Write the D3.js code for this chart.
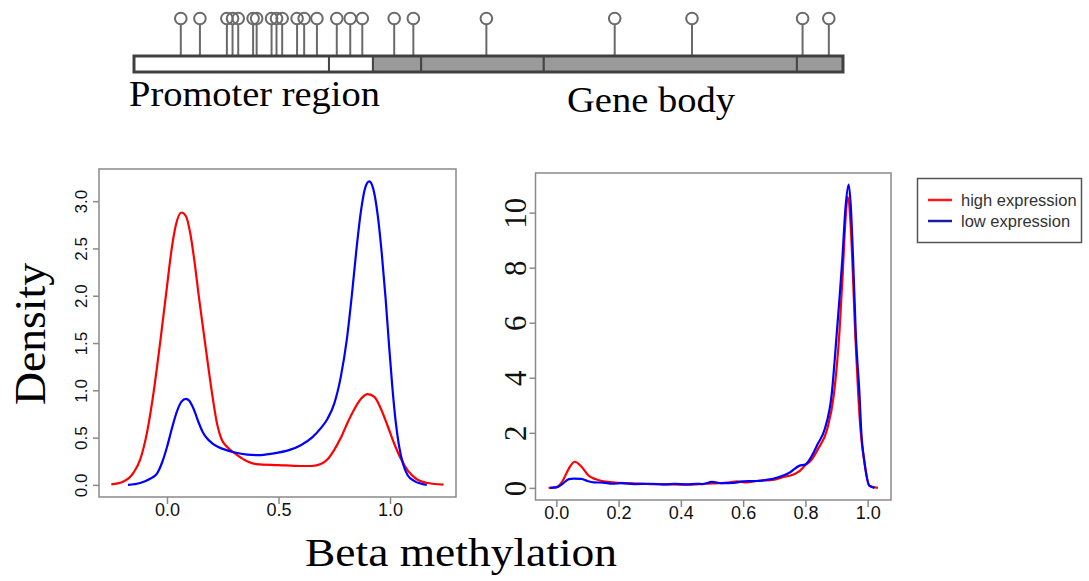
<!DOCTYPE html>
<html>
<head>
<meta charset="utf-8">
<script src="https://cdn.jsdelivr.net/npm/d3@7"></script>
<style>
  body { margin: 0; background: #fff; }
  svg { display: block; }
</style>
</head>
<body>
<div id="chart"></div>
<script>
// gene model: positions along the gene, 0-100
var segments = [
    { start: 0, end: 27.5, type: "promoter" },
    { start: 27.5, end: 33.7, type: "promoter" },
    { start: 33.7, end: 40.5, type: "body" },
    { start: 40.5, end: 57.8, type: "body" },
    { start: 57.8, end: 93.5, type: "body" },
    { start: 93.5, end: 100, type: "body" }
];
var cpgSites = [6.6, 9.3, 13.1, 13.9, 14.7, 16.8, 17.3, 19.4, 20.1, 20.9, 23.0, 24.0,
    25.8, 28.6, 30.5, 32.2, 36.7, 39.4, 49.7, 67.8, 78.7, 94.3, 98.0];

// promoter density curves [beta, density]
var promoterHigh = [[-0.25, 0.005], [-0.2, 0.03], [-0.15, 0.13], [-0.12, 0.27], [-0.09, 0.55],
    [-0.06, 0.98], [-0.03, 1.52], [0.0, 2.1], [0.02, 2.48], [0.04, 2.75], [0.065, 2.88], [0.085, 2.84],
    [0.105, 2.65], [0.125, 2.33], [0.145, 1.95], [0.165, 1.6], [0.185, 1.25], [0.205, 0.92],
    [0.225, 0.64], [0.245, 0.48], [0.27, 0.4], [0.3, 0.34], [0.35, 0.26], [0.4, 0.22], [0.5, 0.21],
    [0.6, 0.2], [0.65, 0.2], [0.69, 0.22], [0.72, 0.27], [0.75, 0.37], [0.78, 0.5], [0.81, 0.66],
    [0.84, 0.8], [0.87, 0.91], [0.9, 0.96], [0.93, 0.93], [0.96, 0.8], [0.99, 0.62], [1.02, 0.43],
    [1.05, 0.27], [1.08, 0.15], [1.12, 0.06], [1.17, 0.02], [1.24, 0.003]];
var promoterLow = [[-0.175, 0.0], [-0.12, 0.02], [-0.08, 0.06], [-0.045, 0.12], [-0.02, 0.25],
    [0.0, 0.4], [0.02, 0.58], [0.045, 0.78], [0.065, 0.88], [0.085, 0.91], [0.1, 0.89], [0.12, 0.8],
    [0.14, 0.67], [0.16, 0.56], [0.18, 0.49], [0.2, 0.445], [0.23, 0.4], [0.27, 0.365], [0.3, 0.345],
    [0.36, 0.32], [0.41, 0.315], [0.47, 0.33], [0.55, 0.37], [0.6, 0.42], [0.65, 0.5], [0.69, 0.6],
    [0.72, 0.7], [0.75, 0.86], [0.78, 1.15], [0.806, 1.53], [0.83, 2.03], [0.85, 2.5], [0.87, 2.9],
    [0.89, 3.15], [0.907, 3.21], [0.925, 3.13], [0.945, 2.85], [0.963, 2.45], [0.98, 1.98],
    [0.995, 1.5], [1.01, 1.05], [1.025, 0.68], [1.04, 0.42], [1.06, 0.21], [1.08, 0.1], [1.11, 0.04],
    [1.165, 0.0]];

// gene body density curves
var bodyHigh = [[-0.025, 0], [0.0, 0.03], [0.02, 0.25], [0.04, 0.7], [0.059, 0.95], [0.08, 0.78],
    [0.104, 0.44], [0.125, 0.32], [0.146, 0.25], [0.18, 0.2], [0.22, 0.17], [0.26, 0.16], [0.3, 0.14],
    [0.35, 0.13], [0.4, 0.12], [0.45, 0.13], [0.48, 0.15], [0.52, 0.17], [0.56, 0.2], [0.58, 0.24],
    [0.61, 0.2], [0.65, 0.26], [0.7, 0.3], [0.73, 0.4], [0.75, 0.44], [0.78, 0.6], [0.803, 0.86],
    [0.814, 0.95], [0.84, 1.4], [0.87, 2.13], [0.891, 3.35], [0.91, 5.77], [0.92, 7.8], [0.928, 9.6],
    [0.936, 10.56], [0.944, 9.8], [0.951, 8.2], [0.96, 5.6], [0.97, 3.35], [0.977, 2.13], [0.99, 0.9],
    [1.006, 0.08], [1.033, 0]];
var bodyLow = [[-0.02, 0], [0.0, 0.02], [0.02, 0.15], [0.04, 0.32], [0.055, 0.34], [0.08, 0.33],
    [0.1, 0.25], [0.12, 0.2], [0.15, 0.19], [0.18, 0.15], [0.21, 0.17], [0.25, 0.14], [0.3, 0.15],
    [0.35, 0.13], [0.38, 0.15], [0.42, 0.13], [0.45, 0.15], [0.47, 0.14], [0.5, 0.22], [0.53, 0.17],
    [0.57, 0.18], [0.6, 0.24], [0.64, 0.25], [0.68, 0.3], [0.71, 0.38], [0.75, 0.56], [0.78, 0.8],
    [0.8, 0.85], [0.82, 1.15], [0.84, 1.6], [0.862, 2.13], [0.884, 3.35], [0.901, 5.65], [0.919, 8.38],
    [0.929, 10.2], [0.939, 11.02], [0.946, 10.2], [0.953, 8.38], [0.962, 5.58], [0.974, 3.35],
    [0.979, 2.13], [0.99, 0.92], [1.006, 0.07], [1.022, 0]];

var promoterXTicks = [0.0, 0.5, 1.0];
var promoterYTicks = [0.0, 0.5, 1.0, 1.5, 2.0, 2.5, 3.0];
var bodyXTicks = [0.0, 0.2, 0.4, 0.6, 0.8, 1.0];
var bodyYTicks = [0, 2, 4, 6, 8, 10];
var legendLabels = ["high expression", "low expression"];

var SANS = "'Liberation Sans', Arial, Helvetica, sans-serif";
var SERIF = "'Liberation Serif', 'Times New Roman', serif";
var axisColor = "#8a8a8a";

var svg = d3.select("#chart")
    .append("svg")
    .attr("width", 1089)
    .attr("height", 581);

// ---- gene model ----
var gx = d3.scaleLinear().domain([0, 100]).range([134, 843]);
var barTop = 56, barBottom = 72;

var sites = svg.append("g");
sites.selectAll("line")
    .data(cpgSites)
    .enter().append("line")
    .attr("x1", d => gx(d)).attr("x2", d => gx(d))
    .attr("y1", 24).attr("y2", barTop)
    .attr("stroke", "#6a6a6a")
    .attr("stroke-width", 2);
sites.selectAll("circle")
    .data(cpgSites)
    .enter().append("circle")
    .attr("cx", d => gx(d))
    .attr("cy", 18.5)
    .attr("r", 5.8)
    .attr("fill", "none")
    .attr("stroke", "#6a6a6a")
    .attr("stroke-width", 2);

svg.append("g").selectAll("rect")
    .data(segments)
    .enter().append("rect")
    .attr("x", d => gx(d.start))
    .attr("y", barTop)
    .attr("width", d => gx(d.end) - gx(d.start))
    .attr("height", barBottom - barTop)
    .attr("fill", d => d.type == "promoter" ? "#ffffff" : "#9a9a9a")
    .attr("stroke", "#454545")
    .attr("stroke-width", 2);
svg.append("rect")
    .attr("x", gx(0)).attr("y", barTop)
    .attr("width", gx(100) - gx(0)).attr("height", barBottom - barTop)
    .attr("fill", "none")
    .attr("stroke", "#404040")
    .attr("stroke-width", 3);

svg.append("text")
    .text("Promoter region")
    .attr("x", 129).attr("y", 106)
    .attr("font-family", SERIF).attr("font-size", 35)
    .attr("textLength", 251).attr("lengthAdjust", "spacingAndGlyphs");
svg.append("text")
    .text("Gene body")
    .attr("x", 567).attr("y", 112)
    .attr("font-family", SERIF).attr("font-size", 35)
    .attr("textLength", 168).attr("lengthAdjust", "spacingAndGlyphs");

// ---- density panels ----
function panel(opt) {
    var x = d3.scaleLinear().domain(opt.xDomain).range([opt.left, opt.right]);
    var y = d3.scaleLinear().domain(opt.yDomain).range([opt.bottom, opt.top]);
    var g = svg.append("g");

    var line = d3.line()
        .x(d => x(d[0]))
        .y(d => y(d[1]))
        .curve(d3.curveMonotoneX);

    opt.series.forEach(function (s) {
        g.append("path")
            .datum(s.values)
            .attr("d", line)
            .attr("fill", "none")
            .attr("stroke", s.color)
            .attr("stroke-width", 2.2);
    });

    g.append("rect")
        .attr("x", opt.left).attr("y", opt.top)
        .attr("width", opt.right - opt.left).attr("height", opt.bottom - opt.top)
        .attr("fill", "none")
        .attr("stroke", axisColor)
        .attr("stroke-width", 1.5);

    var xAxis = g.append("g")
        .attr("transform", "translate(0," + opt.bottom + ")")
        .call(d3.axisBottom(x).tickValues(opt.xTicks).tickSize(7).tickSizeOuter(0)
            .tickFormat(opt.xFormat));
    xAxis.select(".domain").remove();
    xAxis.selectAll("line").attr("stroke", axisColor).attr("stroke-width", 1.5);
    xAxis.selectAll("text")
        .attr("y", opt.xLabelDy)
        .attr("dy", null)
        .attr("fill", "#111")
        .attr("font-family", SANS)
        .attr("font-size", 18);

    var yAxis = g.append("g")
        .attr("transform", "translate(" + opt.left + ",0)")
        .call(d3.axisLeft(y).tickValues(opt.yTicks).tickSize(6).tickSizeOuter(0)
            .tickFormat(opt.yFormat));
    yAxis.select(".domain").remove();
    yAxis.selectAll("line").attr("stroke", axisColor).attr("stroke-width", 1.5);
    yAxis.selectAll("text")
        .attr("x", null).attr("dy", null)
        .attr("text-anchor", "middle")
        .attr("transform", "translate(" + opt.yLabelX + ",0) rotate(-90)")
        .attr("fill", "#111")
        .attr("font-family", opt.yFont)
        .attr("font-size", opt.yFontSize);
}

panel({
    left: 99, right: 456, top: 169, bottom: 497,
    xDomain: [-0.305, 1.296], yDomain: [-0.128, 3.34],
    xTicks: promoterXTicks, yTicks: promoterYTicks,
    xFormat: d3.format(".1f"), yFormat: d3.format(".1f"),
    xLabelDy: 19, yLabelX: -12, yFont: SANS, yFontSize: 17,
    series: [
        { values: promoterHigh, color: "#ff0000" },
        { values: promoterLow, color: "#0000ff" }
    ]
});

panel({
    left: 535.5, right: 891, top: 173, bottom: 500,
    xDomain: [-0.067, 1.075], yDomain: [-0.44, 11.44],
    xTicks: bodyXTicks, yTicks: bodyYTicks,
    xFormat: d3.format(".1f"), yFormat: d3.format("d"),
    xLabelDy: 19, yLabelX: -10, yFont: SERIF, yFontSize: 31,
    series: [
        { values: bodyHigh, color: "#ff0000" },
        { values: bodyLow, color: "#0000ff" }
    ]
});

// ---- axis titles ----
svg.append("text")
    .text("Density")
    .attr("text-anchor", "middle")
    .attr("transform", "translate(45,334) rotate(-90)")
    .attr("font-family", SERIF).attr("font-size", 45)
    .attr("textLength", 142).attr("lengthAdjust", "spacingAndGlyphs");
svg.append("text")
    .text("Beta methylation")
    .attr("x", 305).attr("y", 566)
    .attr("font-family", SERIF).attr("font-size", 40)
    .attr("textLength", 312).attr("lengthAdjust", "spacingAndGlyphs");

// ---- legend ----
var legend = svg.append("g");
legend.append("rect")
    .attr("x", 917.5).attr("y", 178.5)
    .attr("width", 164).attr("height", 64)
    .attr("fill", "#fff")
    .attr("stroke", "#555")
    .attr("stroke-width", 1.5);
var legendColors = ["#ff1a1a", "#1c1c9c"];
legendLabels.forEach(function (lab, i) {
    var ly = 200 + i * 21;
    legend.append("line")
        .attr("x1", 928).attr("x2", 952)
        .attr("y1", ly).attr("y2", ly)
        .attr("stroke", legendColors[i])
        .attr("stroke-width", 2.5);
    legend.append("text")
        .text(lab)
        .attr("x", 961).attr("y", ly + 5.5)
        .attr("fill", "#333")
        .attr("font-family", SANS)
        .attr("font-size", 16.5);
});
</script>
</body>
</html>
